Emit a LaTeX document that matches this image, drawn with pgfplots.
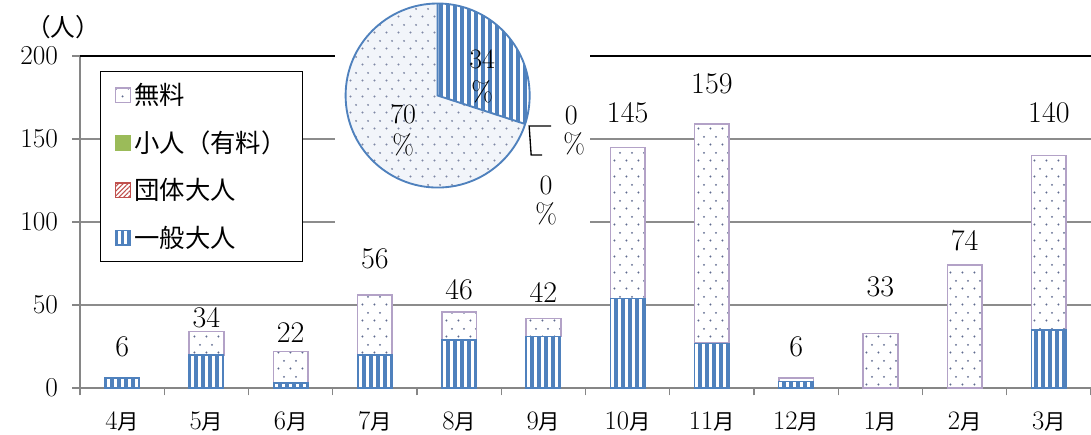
\documentclass[border=0pt]{standalone}
\usepackage{fix-cm}
\usepackage{pgfplots}
\pgfplotsset{compat=1.18}
\usepackage{fontspec}
\newfontfamily\jp{Noto Sans CJK JP}
\usetikzlibrary{patterns,patterns.meta}
\definecolor{cblue}{HTML}{4F81BD}
\definecolor{cpurple}{HTML}{B3A2C7}
\definecolor{cgreen}{HTML}{9BBB59}
\definecolor{cred}{HTML}{C0504D}
\definecolor{axgray}{HTML}{868686}
\definecolor{grgray}{HTML}{8C8C8C}
\definecolor{dotcol}{HTML}{5F6A8E}
\definecolor{piefree}{HTML}{F2F5FA}
\tikzdeclarepattern{name=mydots, type=uncolored,
  bottom left={(0pt,0pt)}, top right={(9pt,12pt)}, tile size={(9pt,12pt)},
  code={\fill (2pt,2pt) circle (0.85pt); \fill (6.5pt,8pt) circle (0.85pt);}}
\newcommand\tsuki{{\jp\fontsize{16}{16}\selectfont 月}}
\tikzset{stripes/.style={pattern={Lines[angle=90, distance=5.25pt, line width=2.9pt]}, pattern color=cblue}}
\begin{document}
\begin{tikzpicture}
\begin{axis}[
  name=main,
  scale only axis, width=758pt, height=249pt,
  xmin=-0.5, xmax=11.5, ymin=0, ymax=200,
  axis lines*=left,
  axis line style={draw=axgray, line width=1.3pt},
  ybar stacked, bar width=26pt,
  xtick={0,...,11},
  xticklabels={4\tsuki,5\tsuki,6\tsuki,7\tsuki,8\tsuki,9\tsuki,10\tsuki,11\tsuki,12\tsuki,1\tsuki,2\tsuki,3\tsuki},
  minor xtick={-0.5,0.5,...,11.5},
  ytick={0,50,100,150},
  extra y ticks={200},
  extra y tick style={grid style={draw=black, line width=1.6pt}},
  ymajorgrids,
  grid style={draw=grgray, line width=1pt},
  tick align=outside,
  major tick length=6pt, minor tick length=5.5pt,
  major x tick style={draw=none},
  minor x tick style={draw=axgray, line width=1pt},
  y tick style={draw=axgray, line width=1pt},
  /pgf/number format/assume math mode=true,
  yticklabel style={font=\fontsize{20.5}{20.5}\selectfont, xshift=-7pt},
  xticklabel style={font=\fontsize{20}{20}\selectfont, yshift=-8pt},
  legend style={at={(0.0198,0.955)}, anchor=north west, draw=black, line width=1pt,
    fill=white, font=\jp\fontsize{19}{19}\selectfont, row sep=14pt,
    inner xsep=10pt, inner ysep=7pt, legend cell align=left},
]
\addplot[forget plot, draw=cblue, line width=1pt, fill=white, postaction={stripes}]
  coordinates {(0,6)(1,20)(2,3)(3,20)(4,29)(5,31)(6,54)(7,27)(8,4)(9,0)(10,0)(11,35)};
\addplot[forget plot, draw=cpurple, line width=1.2pt, fill=white,
  postaction={pattern=mydots, pattern color=dotcol}]
  coordinates {(0,0)(1,14)(2,19)(3,36)(4,17)(5,11)(6,91)(7,132)(8,2)(9,33)(10,74)(11,105)};
\addlegendimage{legend image code/.code={\draw[draw=cpurple, line width=1pt, fill=white, postaction={pattern=mydots, pattern color=dotcol}] (0pt,-5.5pt) rectangle (11pt,5.5pt);}}
\addlegendentry{無料}
\addlegendimage{legend image code/.code={\fill[cgreen] (0pt,-5.5pt) rectangle (11pt,5.5pt);}}
\addlegendentry{小人（有料）}
\addlegendimage{legend image code/.code={\draw[draw=cred, line width=1pt, fill=white, postaction={pattern={Lines[angle=45, distance=2.5pt, line width=0.8pt]}, pattern color=cred}] (0pt,-5.5pt) rectangle (11pt,5.5pt);}}
\addlegendentry{団体大人}
\addlegendimage{legend image code/.code={\draw[draw=cblue, line width=1pt, fill=white, postaction={pattern={Lines[angle=90, distance=4pt, line width=2.2pt]}, pattern color=cblue}] (0pt,-5.5pt) rectangle (11pt,5.5pt);}}
\addlegendentry{一般大人}
\end{axis}
\begin{axis}[
  scale only axis, width=758pt, height=249pt,
  xmin=-0.5, xmax=11.5, ymin=0, ymax=200, hide axis, clip=false]
\addplot[draw=none, mark=none, nodes near coords, point meta=explicit symbolic,
  nodes near coords style={anchor=center, font=\fontsize{22.5}{22.5}\selectfont, inner sep=0pt}]
  coordinates {(0,24.7)[6] (1,42.2)[34] (2,33.7)[22] (3,78)[56] (4,59)[46] (5,57.8)[42]
    (6,165.7)[145] (7,183)[159] (8,24.7)[6] (9,61)[33] (10,89)[74] (11,165.7)[140]};
\end{axis}
\coordinate (TL) at ([xshift=-60pt,yshift=291pt]main.south west);
\begin{scope}[shift={(TL)}, x=0.75pt, y=-0.75pt]
  \fill[white] (335,0) rectangle (590,230);
  \coordinate (PC) at (437.5,95.5);
\end{scope}
\begin{scope}[shift={(PC)}]
  \pgfmathsetmacro\ang{90-360*(229/763)}
  \fill[piefree] (0,0) circle (69pt);
  \fill[pattern=mydots, pattern color=dotcol!80] (0,0) circle (69pt);
  \fill[white] (0,0) -- (90:69pt) arc[start angle=90, end angle=\ang, radius=69pt] -- cycle;
  \fill[stripes] (0,0) -- (90:69pt) arc[start angle=90, end angle=\ang, radius=69pt] -- cycle;
  \draw[cblue, line width=1.4pt] (0,0) circle (69pt);
  \draw[cblue, line width=1.4pt] (90:69pt) -- (0,0) -- (\ang:69pt);
\end{scope}
\begin{scope}[shift={(TL)}, x=0.75pt, y=-0.75pt]
  \node[font=\jp\fontsize{18.5}{18.5}\selectfont] at (63,27) {（人）};
  \begin{scope}[font=\fontsize{21}{21}\selectfont]
    \node at (482,59) {34};  \node at (482,92) {\%};
    \node at (403,114) {70}; \node at (403,145) {\%};
    \node at (571,115) {0};  \node at (574,144) {\%};
    \node at (546,185) {0};  \node at (546,214) {\%};
  \end{scope}
  \draw[black, line width=1pt] (551,126) -- (529,126) -- (531,155) -- (542,155);
\end{scope}
\pgfresetboundingbox
\path[use as bounding box] ([xshift=-60pt,yshift=-34.5pt]main.south west) rectangle ([yshift=42pt]main.north east);
\end{tikzpicture}
\end{document}
